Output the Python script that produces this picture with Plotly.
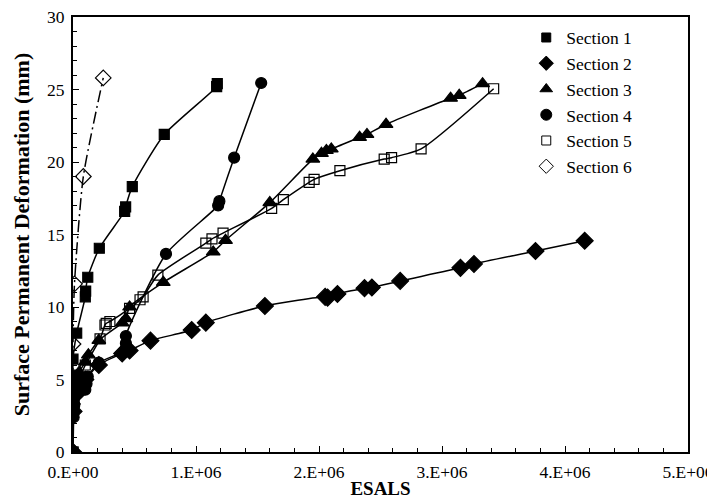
import plotly.graph_objects as go

# ESALS in millions (scaled to absolute below), deformation in mm
s1_x = [0, 0.0, 0.0, 0.03, 0.10, 0.103, 0.12, 0.214, 0.42, 0.428, 0.482, 0.742, 1.168, 1.173]
s1_y = [0, 5.3, 6.4, 8.2, 10.7, 11.1, 12.05, 14.05, 16.6, 16.9, 18.3, 21.9, 25.2, 25.4]

s2_x = [0, 0.005, 0.03, 0.10, 0.21, 0.40, 0.46, 0.63, 0.965, 1.08, 1.56, 2.05, 2.07, 2.15, 2.37, 2.43, 2.66, 3.15, 3.26, 3.76, 4.16]
s2_y = [0, 2.8, 4.0, 5.0, 6.0, 6.8, 7.0, 7.68, 8.41, 8.92, 10.07, 10.7, 10.65, 10.9, 11.3, 11.35, 11.8, 12.7, 12.97, 13.86, 14.57]

s3_x = [0, 0.005, 0.02, 0.05, 0.10, 0.125, 0.21, 0.40, 0.43, 0.46, 0.734, 1.14, 1.24, 1.60, 1.95, 2.02, 2.06, 2.10, 2.33, 2.39, 2.545, 3.07, 3.14, 3.33]
s3_y = [0, 3.5, 4.5, 5.5, 6.2, 6.7, 7.7, 8.9, 9.2, 10.0, 11.7, 13.8, 14.6, 17.2, 20.2, 20.6, 20.8, 20.9, 21.7, 21.9, 22.6, 24.4, 24.6, 25.4]

s4_x = [0, 0.005, 0.005, 0.01, 0.02, 0.03, 0.10, 0.11, 0.12, 0.21, 0.42, 0.43, 0.43, 0.756, 1.18, 1.19, 1.31, 1.53]
s4_y = [0, 2.4, 2.8, 3.2, 4.5, 5.0, 4.3, 4.7, 5.2, 6.16, 7.0, 7.5, 8.0, 13.66, 17.0, 17.3, 20.3, 25.45]

s5_x = [0, 0.01, 0.05, 0.10, 0.22, 0.26, 0.27, 0.30, 0.46, 0.545, 0.57, 0.69, 1.08, 1.13, 1.22, 1.615, 1.71, 1.92, 1.96, 2.17, 2.53, 2.59, 2.83, 3.42]
s5_y = [0, 3.5, 5.0, 6.0, 7.8, 8.76, 8.87, 9.0, 9.9, 10.5, 10.7, 12.2, 14.4, 14.7, 15.1, 16.8, 17.4, 18.6, 18.8, 19.4, 20.2, 20.3, 20.9, 25.05]

s6_x = [0, 0.0, 0.012, 0.084, 0.246]
s6_y = [0, 7.45, 11.6, 19.0, 25.8]

names = ["Section 1", "Section 2", "Section 3", "Section 4", "Section 5", "Section 6"]
x_ticks = [0, 1e6, 2e6, 3e6, 4e6, 5e6]
x_labels = ["0.E+00", "1.E+06", "2.E+06", "3.E+06", "4.E+06", "5.E+06"]

SERIF = "Liberation Serif, Times New Roman, Tinos, serif"

series = [
    (s1_x, s1_y, "square", 10, "solid"),
    (s2_x, s2_y, "diamond", 13, "solid"),
    (s3_x, s3_y, "triangle-up", 12, "solid"),
    (s4_x, s4_y, "circle", 11, "solid"),
    (s5_x, s5_y, "square-open", 10, "solid"),
    (s6_x, s6_y, "diamond-open", 12, "12px,4px,2px,4px"),
]

fig = go.Figure()
for (xs, ys, sym, sz, dash), nm in zip(series, names):
    fig.add_trace(go.Scatter(
        x=[v * 1e6 for v in xs], y=ys, mode="lines+markers", name=nm,
        showlegend=False,
        line=dict(color="black", width=1.5, shape="spline", smoothing=0.6, dash=dash),
        marker=dict(symbol=sym, size=sz, color="black",
                    line=dict(color="black", width=1.2)),
    ))
for (xs, ys, sym, sz, dash), nm in zip(series, names):
    fig.add_trace(go.Scatter(
        x=[None], y=[None], mode="markers", name=nm, showlegend=True,
        marker=dict(symbol=sym, size=9 if "square" in sym else 11, color="black",
                    line=dict(color="black", width=1)),
    ))

axis_common = dict(
    showline=True, linecolor="black", linewidth=2, mirror=True,
    ticks="inside", ticklen=6, tickwidth=1, tickcolor="black",
    showgrid=False, zeroline=False, automargin=False,
    ticklabeloverflow="allow",
    tickfont=dict(family=SERIF, size=17.5, color="black"),
)

fig.update_xaxes(
    range=[0, 5e6], tickvals=x_ticks, ticktext=x_labels,
    ticklabelstandoff=3,
    minor=dict(ticks="inside", ticklen=4, tickcolor="black", dtick=2e5, showgrid=False),
    title=dict(text="<b>ESALS</b>", font=dict(family=SERIF, size=19, color="black"), standoff=1),
    **axis_common,
)
fig.update_yaxes(
    range=[0, 30], dtick=5,
    ticklabelstandoff=3,
    minor=dict(ticks="inside", ticklen=4, tickcolor="black", dtick=1, showgrid=False),
    title=dict(text="<b>Surface Permanent Deformation (mm)</b>", font=dict(family=SERIF, size=22, color="black"), standoff=11),
    **axis_common,
)

# page body has an 8px margin, so the figure is sized/offset to compensate
fig.update_layout(
    width=707, height=496,
    margin=dict(l=65, r=27, t=9, b=52, autoexpand=False),
    plot_bgcolor="white", paper_bgcolor="white",
    legend=dict(x=0.737, y=0.994, xanchor="left", yanchor="top",
                font=dict(family=SERIF, size=17.5, color="black"),
                bgcolor="rgba(0,0,0,0)", itemwidth=30, tracegroupgap=0),
    font=dict(family=SERIF, color="black"),
)

fig.write_html("out.html")
